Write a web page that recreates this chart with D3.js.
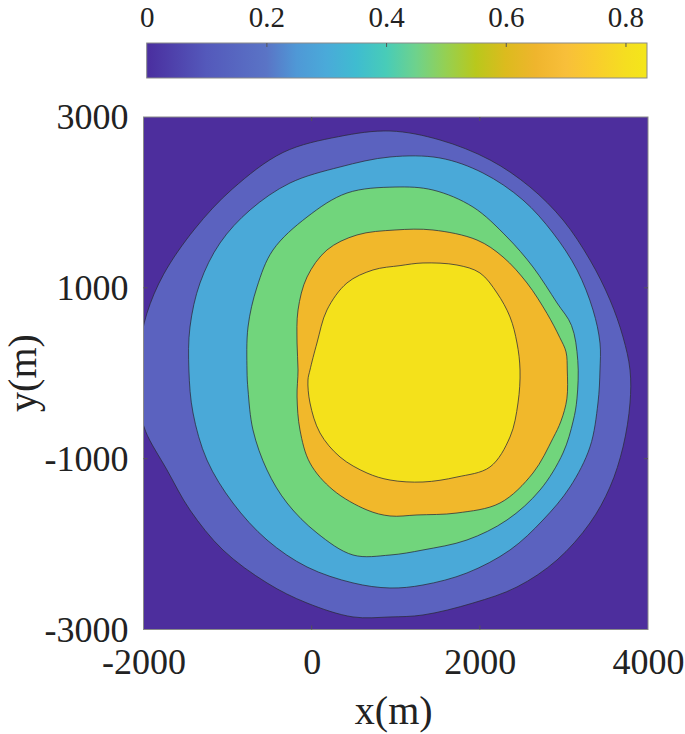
<!DOCTYPE html>
<html>
<head>
<meta charset="utf-8">
<script src="https://cdn.jsdelivr.net/npm/d3@7"></script>
<style>
  html, body { margin: 0; padding: 0; background: #fff; }
  svg { display: block; }
  text { font-family: "Liberation Serif", "Times New Roman", serif; fill: #222; }
</style>
</head>
<body>
<svg id="chart" width="685" height="734"></svg>
<script>
// ---------- data ----------
const xTicks = [-2000, 0, 2000, 4000];
const yTicks = [-3000, -1000, 1000, 3000];
const cbTicks = [0, 0.2, 0.4, 0.6, 0.8];
const cbLabels = ["0", "0.2", "0.4", "0.6", "0.8"];
const cbRange = [0, 0.836];

// boundary points [x(m), y(m)] for each filled level, outermost first
const contour1 = [
  [-1960, 700], [-1760, 1160], [-1390, 1690], [-940, 2160], [-340, 2585], [320, 2770],
  [932, 2836], [1526, 2731], [2121, 2497], [2597, 2180], [2989, 1794], [3310, 1326],
  [3548, 858], [3703, 424], [3786, 38], [3786, -348], [3703, -863], [3548, -1332],
  [3310, -1753], [2918, -2186], [2442, -2502], [1919, -2690], [1324, -2830], [932, -2853],
  [492, -2853], [-55, -2690], [-531, -2455], [-1055, -2069], [-1447, -1601], [-1720, -1133],
  [-1975, -680], [-2040, -420], [-2070, -50], [-2045, 300]
];
const contour2 = [
  [-1460, 38], [-1447, 542], [-1328, 1057], [-1090, 1525], [-733, 1911], [-258, 2227],
  [337, 2415], [932, 2532], [1526, 2520], [2038, 2344], [2513, 2028], [2870, 1642],
  [3156, 1209], [3346, 741], [3429, 354], [3429, 38], [3405, -348], [3310, -863],
  [3072, -1332], [2751, -1718], [2359, -2069], [1847, -2338], [1324, -2479], [932, -2514],
  [492, -2455], [-55, -2268], [-531, -1952], [-936, -1519], [-1245, -1016], [-1411, -465]
];
const contour3 = [
  [-769, 38], [-757, 542], [-650, 1010], [-460, 1443], [-55, 1829], [420, 2110],
  [990, 2180], [1443, 2145], [1919, 1946], [2323, 1595], [2632, 1244], [2918, 823],
  [3090, 560], [3165, 150], [3155, -300], [3110, -560], [2989, -934], [2716, -1367],
  [2323, -1718], [1847, -1952], [1324, -2069], [932, -2128], [492, -2128], [63, -1870],
  [-293, -1519], [-531, -1133], [-698, -664], [-757, -196]
];
const contour4 = [
  [-162, 38], [-174, 354], [-162, 741], [-55, 1127], [182, 1443], [539, 1619],
  [990, 1677], [1443, 1677], [1966, 1560], [2276, 1361], [2561, 1057], [2799, 700],
  [2950, 420], [3025, 250], [3040, 38], [3035, -300], [2965, -560], [2870, -760],
  [2632, -1168], [2240, -1519], [1728, -1636], [1253, -1659], [932, -1671], [658, -1601],
  [254, -1367], [-20, -1051], [-139, -664], [-174, -278]
];
const contour5 = [
  [-20, 38], [63, 354], [182, 741], [420, 1057], [729, 1209], [1051, 1260],
  [1324, 1291], [1728, 1267], [2002, 1174], [2204, 940], [2359, 659], [2442, 354],
  [2478, 38], [2454, -348], [2359, -746], [2121, -1097], [1728, -1215], [1324, -1273],
  [932, -1250], [658, -1168], [337, -980], [99, -699], [-20, -348], [-44, -79]
];
const contours = [contour1, contour2, contour3, contour4, contour5];

// colour map stops (parula-like, as seen on the colour bar)
const cmapStops = [0, 0.1, 0.2, 0.25, 0.3, 0.35, 0.4, 0.45, 0.5, 0.55, 0.6, 0.65, 0.7, 0.75, 0.8, 0.836];
const cmapColors = ["#4a2e9f", "#5459bb", "#5a74c6", "#4f98d6", "#4aaad9", "#3fbcd0", "#48ccb8",
                    "#6ed28c", "#95d052", "#b9c81c", "#dcbb1e", "#efb52d", "#f8bf3a", "#f9cd2c",
                    "#f5de20", "#f4e61a"];
// flat colours of the filled contour bands
const bandColors = ["#4d2e9d", "#5b62bf", "#4aa9d8", "#71d57c", "#f1b82b", "#f4e11b"];

// ---------- drawing ----------
const svg = d3.select("#chart");
const L = 143.5, R = 648, T = 117, B = 629.5;
const x = d3.scaleLinear().domain([-2000, 4000]).range([L, R]);
const y = d3.scaleLinear().domain([-3000, 3000]).range([B, T]);

svg.append("defs").append("clipPath").attr("id", "plotclip")
  .append("rect").attr("x", L).attr("y", T).attr("width", R - L).attr("height", B - T);

const plot = svg.append("g").attr("clip-path", "url(#plotclip)");
plot.append("rect").attr("x", L).attr("y", T).attr("width", R - L).attr("height", B - T)
  .attr("fill", bandColors[0]);

const line = d3.line().x(d => x(d[0])).y(d => y(d[1])).curve(d3.curveCatmullRomClosed.alpha(0.5));
plot.selectAll("path.band").data(contours).join("path")
  .attr("class", "band")
  .attr("d", d => line(d))
  .attr("fill", (d, i) => bandColors[i + 1])
  .attr("stroke", "#2b2b3a")
  .attr("stroke-width", 0.9)
  .attr("stroke-opacity", 0.85);

// frame
svg.append("rect").attr("x", L).attr("y", T).attr("width", R - L).attr("height", B - T)
  .attr("fill", "none").attr("stroke", "#8a8a8a").attr("stroke-width", 1);

// axes
const fontAxis = 36;
const xAxis = svg.append("g").attr("transform", `translate(0,${B})`)
  .call(d3.axisBottom(x).tickValues(xTicks).tickSize(0).tickPadding(19));
const yAxis = svg.append("g").attr("transform", `translate(${L},0)`)
  .call(d3.axisLeft(y).tickValues(yTicks).tickSize(0).tickPadding(15));
[xAxis, yAxis].forEach(g => {
  g.select(".domain").remove();
  g.selectAll("text").attr("font-size", fontAxis)
    .attr("font-family", "Liberation Serif, Times New Roman, serif").attr("fill", "#222")
    .text(d => d < 0 ? "-" + Math.abs(d) : String(d));
});

// inner tick marks
const tk = svg.append("g").attr("stroke", "#555").attr("stroke-width", 1);
xTicks.slice(1, -1).forEach(v => {
  tk.append("line").attr("x1", x(v)).attr("x2", x(v)).attr("y1", B).attr("y2", B - 4);
  tk.append("line").attr("x1", x(v)).attr("x2", x(v)).attr("y1", T).attr("y2", T + 4);
});
yTicks.slice(1, -1).forEach(v => {
  tk.append("line").attr("y1", y(v)).attr("y2", y(v)).attr("x1", L).attr("x2", L + 4);
  tk.append("line").attr("y1", y(v)).attr("y2", y(v)).attr("x1", R).attr("x2", R - 4);
});

// axis titles
svg.append("text").attr("x", x(1000) - 2).attr("y", 724).attr("text-anchor", "middle")
  .attr("font-size", 40).text("x(m)");
svg.append("text").attr("transform", "translate(36,373) rotate(-90)").attr("text-anchor", "middle")
  .attr("font-size", 40).text("y(m)");

// colour bar
const cbL = 146.7, cbR = 647, cbT = 43, cbB = 78;
const c = d3.scaleLinear().domain(cbRange).range([cbL, cbR]);
const grad = svg.select("defs").append("linearGradient").attr("id", "cbgrad")
  .attr("x1", "0%").attr("x2", "100%").attr("y1", "0%").attr("y2", "0%");
grad.selectAll("stop").data(cmapStops).join("stop")
  .attr("offset", d => ((d - cbRange[0]) / (cbRange[1] - cbRange[0]) * 100) + "%")
  .attr("stop-color", (d, i) => cmapColors[i]);
svg.append("rect").attr("x", cbL).attr("y", cbT).attr("width", cbR - cbL).attr("height", cbB - cbT)
  .attr("fill", "url(#cbgrad)").attr("stroke", "#8a8a8a").attr("stroke-width", 1);
const cbAxis = svg.append("g").attr("transform", `translate(0,${cbT})`)
  .call(d3.axisTop(c).tickValues(cbTicks).tickSize(-4).tickPadding(16).tickFormat((d, i) => cbLabels[i]));
cbAxis.select(".domain").remove();
cbAxis.selectAll("line").attr("stroke", "#555");
cbAxis.selectAll(".tick").filter(d => d === 0).select("line").remove();
cbAxis.selectAll("text").attr("font-size", 29)
  .attr("font-family", "Liberation Serif, Times New Roman, serif").attr("fill", "#222");
</script>
</body>
</html>
